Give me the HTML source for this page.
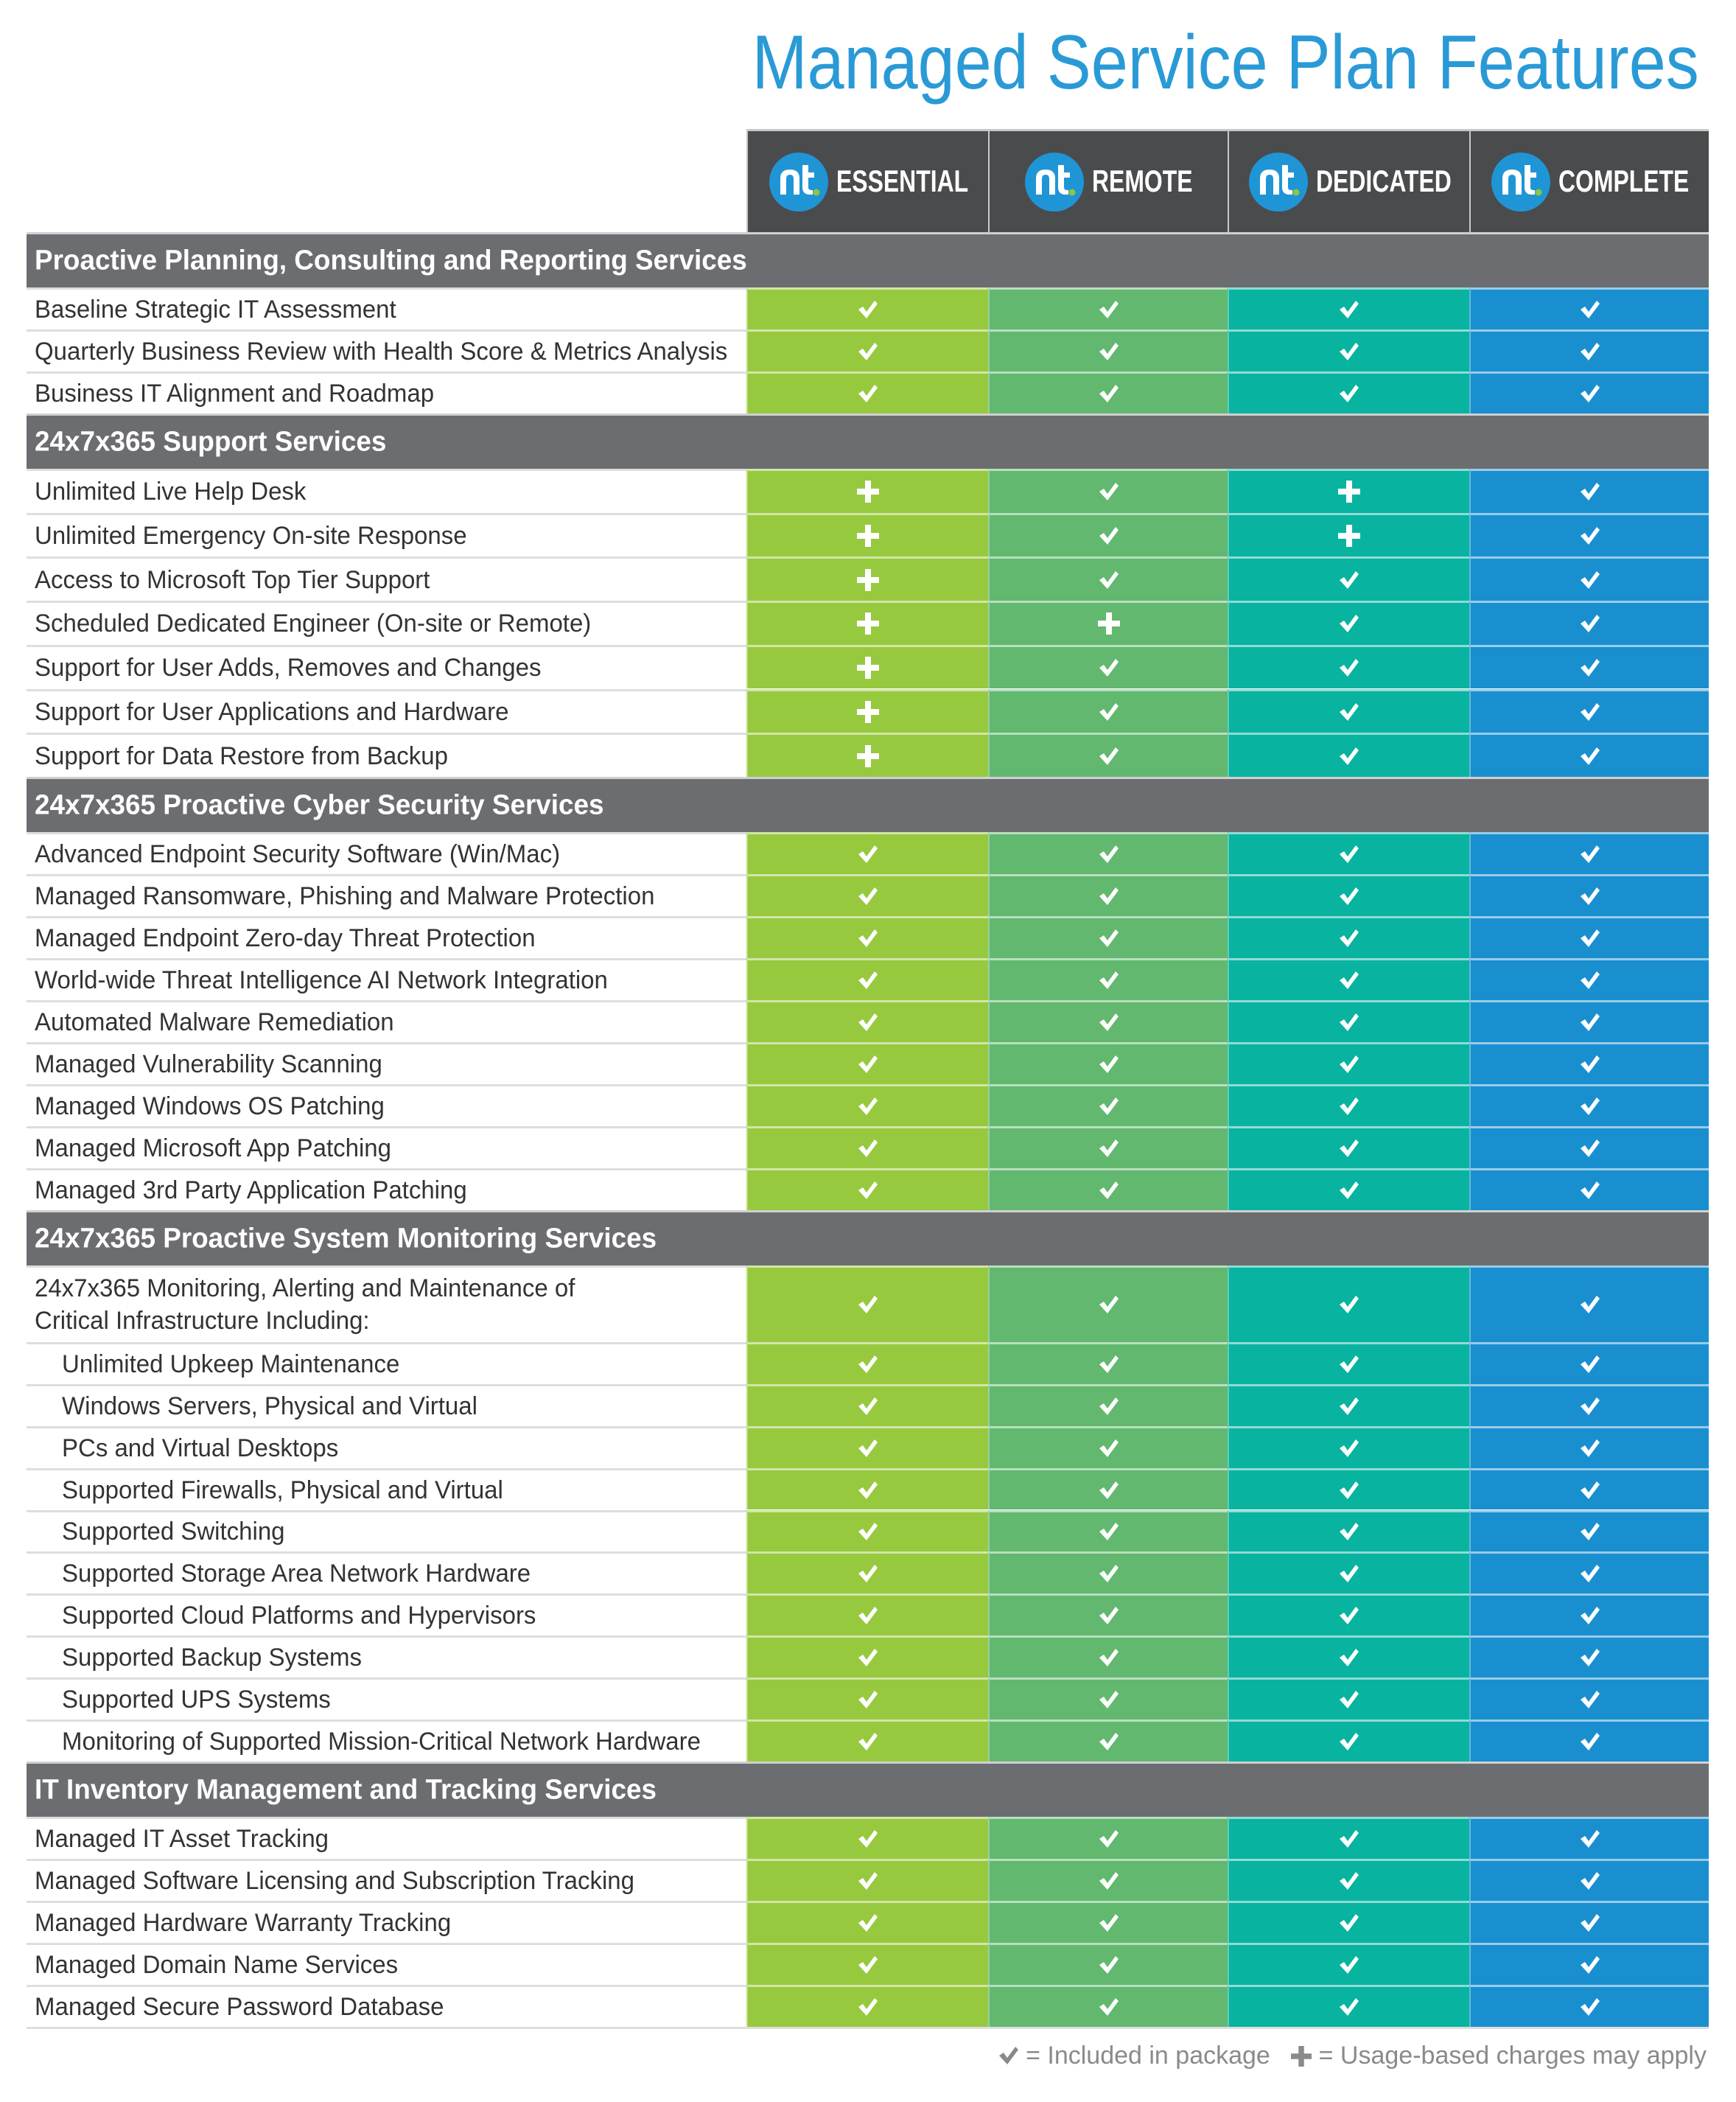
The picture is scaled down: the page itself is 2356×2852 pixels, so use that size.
<!DOCTYPE html>
<html><head><meta charset="utf-8">
<style>
html,body{margin:0;padding:0;background:#fff;}
#root{position:relative;width:2356px;height:2852px;overflow:hidden;font-family:"Liberation Sans",sans-serif;}
.abs{position:absolute;}
.title{right:50px;top:26px;color:#2a9ad6;font-size:104px;white-space:nowrap;transform:scaleX(0.865);transform-origin:right center;}
.hcell{background:#4a4b4d;border-left:2px solid #c8c8c8;box-sizing:border-box;}
.hlabel{color:#fff;font-weight:bold;font-size:42px;white-space:nowrap;transform:scaleX(0.76);transform-origin:left center;}
.sec{background:#6c6d70;color:#fff;font-weight:bold;font-size:38px;box-sizing:border-box;border-top:3px solid #d0d0d0;}
.sec span{position:absolute;left:11px;top:50%;transform:translateY(-50%) scaleX(0.97);transform-origin:left center;white-space:nowrap;}
.lab{color:#333;font-size:34px;box-sizing:border-box;border-top:3px solid #dedede;}
.lab span{position:absolute;top:50%;transform:translateY(-50%) scaleX(0.97);transform-origin:left center;white-space:nowrap;line-height:44px;}
.cell{box-sizing:border-box;border-top:3px solid rgba(255,255,255,0.55);border-left:2px solid rgba(255,255,255,0.35);display:flex;align-items:center;justify-content:center;}
.legend{right:40px;top:2770px;color:#8a8a8c;font-size:34px;white-space:nowrap;}
</style></head><body>
<div id="root">
<div class="abs title">Managed Service Plan Features</div>
</div>
<script>
const planNames=["ESSENTIAL","REMOTE","DEDICATED","COMPLETE"];
const planColors=["#97c93f","#62b86f","#08b3a0","#1a8fd0"];
const sectionTitles=["Proactive Planning, Consulting and Reporting Services","24x7x365 Support Services","24x7x365 Proactive Cyber Security Services","24x7x365 Proactive System Monitoring Services","IT Inventory Management and Tracking Services"];
const sectionRows=[
["Baseline Strategic IT Assessment","Quarterly Business Review with Health Score & Metrics Analysis","Business IT Alignment and Roadmap"],
["Unlimited Live Help Desk","Unlimited Emergency On-site Response","Access to Microsoft Top Tier Support","Scheduled Dedicated Engineer (On-site or Remote)","Support for User Adds, Removes and Changes","Support for User Applications and Hardware","Support for Data Restore from Backup"],
["Advanced Endpoint Security Software (Win/Mac)","Managed Ransomware, Phishing and Malware Protection","Managed Endpoint Zero-day Threat Protection","World-wide Threat Intelligence AI Network Integration","Automated Malware Remediation","Managed Vulnerability Scanning","Managed Windows OS Patching","Managed Microsoft App Patching","Managed 3rd Party Application Patching"],
["24x7x365 Monitoring, Alerting and Maintenance of|Critical Infrastructure Including:",">Unlimited Upkeep Maintenance",">Windows Servers, Physical and Virtual",">PCs and Virtual Desktops",">Supported Firewalls, Physical and Virtual",">Supported Switching",">Supported Storage Area Network Hardware",">Supported Cloud Platforms and Hypervisors",">Supported Backup Systems",">Supported UPS Systems",">Monitoring of Supported Mission-Critical Network Hardware"],
["Managed IT Asset Tracking","Managed Software Licensing and Subscription Tracking","Managed Hardware Warranty Tracking","Managed Domain Name Services","Managed Secure Password Database"]
];
// c = included, p = usage-based
const sectionMarks=[
["cccc","cccc","cccc"],
["pcpc","pcpc","pccc","ppcc","pccc","pccc","pccc"],
["cccc","cccc","cccc","cccc","cccc","cccc","cccc","cccc","cccc"],
["cccc","cccc","cccc","cccc","cccc","cccc","cccc","cccc","cccc","cccc","cccc"],
["cccc","cccc","cccc","cccc","cccc"]
];
const rowHeights=[57,59.7,57,56.9,57];

const root=document.getElementById('root');
const colX=[1013,1341,1666,1994,2319];
const tableLeft=36;
const CHECK='<svg width="28" height="26" viewBox="0 0 28 26"><path d="M1 13 L7 9 L12 16 L23 1 L27 5 L12 25 Z" fill="#fff"/></svg>';
const PLUS='<svg width="30" height="30" viewBox="0 0 30 30"><path d="M11 0 H19 V11 H30 V19 H19 V30 H11 V19 H0 V11 H11 Z" fill="#fff"/></svg>';
function box(cls,x,y,w,h){const d=document.createElement('div');d.className='abs '+cls;d.style.left=x+'px';d.style.top=y+'px';d.style.width=w+'px';d.style.height=h+'px';root.appendChild(d);return d;}

const hdrTop=178,hdrBot=315;
const topLine=box('',colX[0],hdrTop-3,colX[4]-colX[0],3);topLine.style.background='#c8c8c8';


for(let i=0;i<4;i++){
  const h=box('hcell',colX[i],hdrTop,colX[i+1]-colX[i],hdrBot-hdrTop);
  
  
  const w=colX[i+1]-colX[i];
  const labW=[180,140,185,180][i]*1+92;
  const startX=(w-labW)/2;
  h.innerHTML='<svg class="abs" style="left:'+startX+'px;top:28px" width="82" height="82" viewBox="0 0 82 82"><circle cx="41" cy="41" r="40" fill="#1f95d6"/><path d="M16 58 V36 Q16 24 29 24 Q42 24 42 36 V58 H34 V37 Q34 31 29 31 Q24 31 24 37 V58 Z" fill="#fff"/><path d="M46 18 H54 V28 H62 V35 H54 V48 Q54 52 58 52 H60 V58 H56 Q46 58 46 48 Z" fill="#fff"/><circle cx="65" cy="55" r="4.5" fill="#8dc63f"/></svg>'+
  '<div class="abs hlabel" style="left:'+(startX+92)+'px;top:44px">'+planNames[i]+'</div>';
}

let y=hdrBot;
for(let s=0;s<sectionTitles.length;s++){
  const sh=box('sec',tableLeft,y,colX[4]-tableLeft,75);
  
  
  sh.innerHTML='<span>'+sectionTitles[s]+'</span>';
  y+=75;
  const rows=sectionRows[s];
  for(let r=0;r<rows.length;r++){
    let txt=rows[r];let indent=47-tableLeft;
    let rh=rowHeights[s];
    if(txt.indexOf('|')>=0){rh=104;txt=txt.replace('|','<br>');}
    if(txt[0]==='>'){indent=84-tableLeft;txt=txt.slice(1);}
    const lb=box('lab',tableLeft,y,colX[0]-tableLeft,rh);
    
    
    lb.innerHTML='<span style="left:'+indent+'px">'+txt.replace(/&(?!amp;)/g,'&amp;')+'</span>';
    const marks=sectionMarks[s][r];
    for(let c=0;c<4;c++){
      const cell=box('cell',colX[c],y,colX[c+1]-colX[c],rh);
      cell.style.background=planColors[c];
      
      
      cell.innerHTML=marks[c]==='p'?PLUS:CHECK;
    }
    y+=rh;
  }
}
const bl=box('',tableLeft,y,colX[4]-tableLeft,3);bl.style.background='#dedede';



const lg=document.createElement('div');
lg.className='abs legend';


lg.innerHTML='<svg width="28" height="30" viewBox="0 0 28 26" style="vertical-align:-4px"><path d="M1 13 L7 9 L12 16 L23 1 L27 5 L12 25 Z" fill="#8a8a8c"/></svg> = Included in package &nbsp;&nbsp;<svg width="28" height="28" viewBox="0 0 30 30" style="vertical-align:-4px"><path d="M11 0 H19 V11 H30 V19 H19 V30 H11 V19 H0 V11 H11 Z" fill="#8a8a8c"/></svg> = Usage-based charges may apply';
root.appendChild(lg);
</script>
</body></html>
